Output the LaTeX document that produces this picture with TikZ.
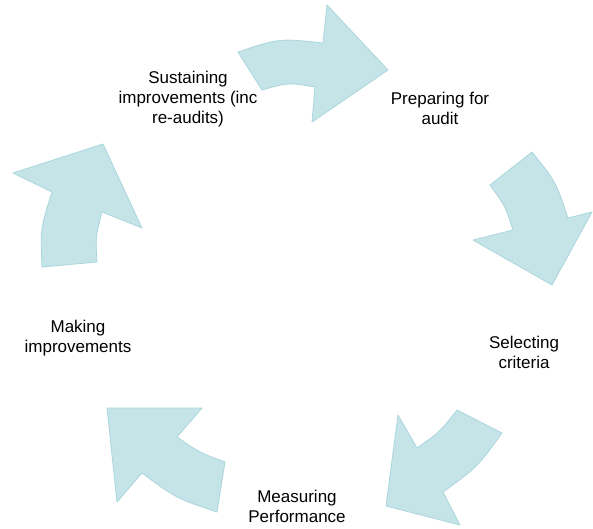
\documentclass[tikz,border=0pt]{standalone}
\usepackage{fontspec}
\setmainfont{Liberation Sans}
\definecolor{arrfill}{RGB}{197,228,232}
\definecolor{arredge}{RGB}{170,214,220}
\tikzset{
  cyclearrow/.style={fill=arrfill, draw=arredge, line width=0.8pt, line join=round},
  lbl/.style={align=center, inner sep=0pt, font=\fontsize{17}{20}\selectfont, text=black}
}
\begin{document}
\begin{tikzpicture}[x=1pt,y=-1pt]
\useasboundingbox (0,0) rectangle (593,528);
% arrow 1 (top)
\draw[cyclearrow] (238,52) .. controls (279.5,38.2) .. (323,43) -- (327,5) -- (388,70) -- (312,122) -- (315,87) .. controls (288.2,82.5) .. (262,90) -- cycle;
% arrow 2 (right)
\draw[cyclearrow] (532,152) .. controls (555.9,181.8) .. (568,218) -- (592,212) -- (552,285) -- (473,240) -- (513,230) .. controls (505.1,205.7) .. (490,185) -- cycle;
% arrow 3 (bottom right)
\draw[cyclearrow] (502,433) .. controls (477.2,467.2) .. (443,492) -- (460,525) -- (386,506) -- (398,415) -- (417,448) .. controls (439.8,431.9) .. (457,410) -- cycle;
% arrow 4 (bottom left)
\draw[cyclearrow] (217,512) .. controls (176.4,498.4) .. (142,473) -- (117,502) -- (107,408) -- (202,408) -- (177,437) .. controls (199.5,452.5) .. (225,462) -- cycle;
% arrow 5 (left)
\draw[cyclearrow] (42,267) .. controls (40.4,228.6) .. (52,192) -- (13,173) -- (103,144) -- (142,228) -- (102,212) .. controls (95.5,236.6) .. (97,262) -- cycle;
% labels
\node[lbl] (sust) at (188,99) {Sustaining\\improvements (inc\\re-audits)};
\node[lbl] (prep) at (440,108) {Preparing for\\audit};
\node[lbl] (sel) at (524,352) {Selecting\\criteria};
\node[lbl] (meas) at (297,506) {Measuring\\Performance};
\node[lbl] (mak) at (78,338) {Making\\improvements};
\end{tikzpicture}
\end{document}
